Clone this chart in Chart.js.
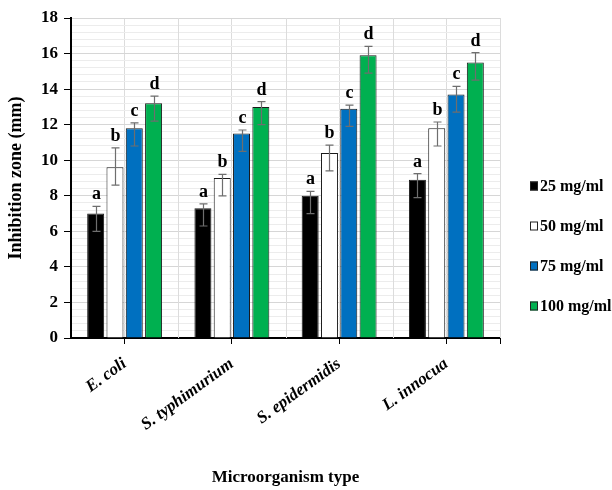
<!DOCTYPE html>
<html>
<head>
<meta charset="utf-8">
<script src="https://cdn.jsdelivr.net/npm/chart.js@4.4.1/dist/chart.umd.min.js"></script>
<style>
  html, body { margin: 0; padding: 0; background: #fff; }
  canvas { display: block; }
</style>
</head>
<body>
<canvas id="chart" width="612" height="490"></canvas>
<script>
// organisms on the x axis
const categories = ['E. coli', 'S. typhimurium', 'S. epidermidis', 'L. innocua'];
const seriesLabels = ['25 mg/ml', '50 mg/ml', '75 mg/ml', '100 mg/ml'];
const seriesColors = ['#000000', '#ffffff', '#0070c0', '#00b050'];
const seriesLetters = ['a', 'b', 'c', 'd'];

// inhibition zone (mm), per concentration
const zone25 = [7.0, 7.3, 8.0, 8.9];
const zone50 = [9.6, 9.0, 10.4, 11.8];
const zone75 = [11.8, 11.5, 12.9, 13.7];
const zone100 = [13.2, 13.0, 15.9, 15.5];

// error bars (plus / minus)
const errUp25 = [0.4, 0.25, 0.25, 0.35];
const errUp50 = [1.1, 0.2, 0.45, 0.35];
const errUp75 = [0.3, 0.2, 0.2, 0.45];
const errUp100 = [0.4, 0.3, 0.5, 0.55];
const errDown25 = [1.0, 1.0, 1.0, 1.0];
const errDown50 = [1.0, 1.0, 1.0, 1.0];
const errDown75 = [1.0, 1.0, 1.0, 1.0];
const errDown100 = [1.0, 1.0, 1.0, 1.0];

const yTicks = [0, 2, 4, 6, 8, 10, 12, 14, 16, 18];

const serif = "'Liberation Serif', 'Times New Roman', serif";
const values = [zone25, zone50, zone75, zone100];
const errUp = [errUp25, errUp50, errUp75, errUp100];
const errDown = [errDown25, errDown50, errDown75, errDown100];

function isMajor(v) {
  return yTicks.some(t => Math.abs(t - v) < 1e-6);
}

const errorBars = {
  id: 'errorBars',
  beforeDatasetsDraw(chart) {
    // vertical grid lines at the category boundaries
    const { ctx, chartArea, scales: { x } } = chart;
    ctx.save();
    ctx.strokeStyle = '#dcdcdc';
    ctx.lineWidth = 1;
    for (let i = 0; i < categories.length - 1; i++) {
      const px = Math.round((x.getPixelForValue(i) + x.getPixelForValue(i + 1)) / 2) + 0.5;
      ctx.beginPath();
      ctx.moveTo(px, chartArea.top);
      ctx.lineTo(px, chartArea.bottom);
      ctx.stroke();
    }
    const rx = Math.round(chartArea.right) + 0.5;
    ctx.beginPath();
    ctx.moveTo(rx, chartArea.top);
    ctx.lineTo(rx, chartArea.bottom);
    ctx.stroke();
    ctx.strokeStyle = '#000';
    ctx.beginPath();
    ctx.moveTo(rx, chartArea.bottom);
    ctx.lineTo(rx, chartArea.bottom + 6);
    ctx.stroke();
    ctx.restore();
  },
  afterDatasetsDraw(chart) {
    const { ctx, scales: { y } } = chart;
    ctx.save();
    chart.data.datasets.forEach((ds, di) => {
      const meta = chart.getDatasetMeta(di);
      meta.data.forEach((bar, i) => {
        const v = values[di][i];
        const top = y.getPixelForValue(v + errUp[di][i]);
        const bot = y.getPixelForValue(v - errDown[di][i]);
        const bx = Math.round(bar.x) + 0.5;
        ctx.strokeStyle = '#6e6e6e';
        ctx.lineWidth = 1.2;
        ctx.beginPath();
        ctx.moveTo(bx, top); ctx.lineTo(bx, bot);
        ctx.moveTo(bx - 4, top); ctx.lineTo(bx + 4, top);
        ctx.moveTo(bx - 4, bot); ctx.lineTo(bx + 4, bot);
        ctx.stroke();
        ctx.fillStyle = '#000';
        ctx.font = 'bold 18px ' + serif;
        ctx.textAlign = 'center';
        ctx.textBaseline = 'alphabetic';
        ctx.fillText(seriesLetters[di], bx, top - 7);
      });
    });
    ctx.restore();
  },
  afterDraw(chart) {
    // legend on the right
    const { ctx } = chart;
    ctx.save();
    ctx.font = 'bold 16px ' + serif;
    ctx.textAlign = 'left';
    ctx.textBaseline = 'middle';
    seriesLabels.forEach((lab, i) => {
      const cy = 186 + i * 40;
      ctx.fillStyle = seriesColors[i];
      ctx.fillRect(530, cy - 4.5, 8, 9);
      ctx.strokeStyle = '#222';
      ctx.lineWidth = 1;
      ctx.strokeRect(530.5, cy - 4, 7, 8);
      ctx.fillStyle = '#000';
      ctx.fillText(lab, 540, cy + 1);
    });
    ctx.restore();
  }
};

new Chart(document.getElementById('chart'), {
  type: 'bar',
  data: {
    labels: categories,
    datasets: values.map((vals, i) => ({
      label: seriesLabels[i],
      data: vals,
      backgroundColor: seriesColors[i],
      borderColor: '#1a1a1a',
      borderWidth: 1,
      categoryPercentage: 0.72,
      barPercentage: 0.88
    }))
  },
  options: {
    responsive: false,
    animation: false,
    layout: { padding: { top: 18, right: 112, left: 0, bottom: 0 } },
    plugins: { legend: { display: false }, tooltip: { enabled: false } },
    scales: {
      x: {
        afterFit(scale) { scale.height = 152; },
        border: { color: '#000', width: 2 },
        grid: { offset: false, color: '#dcdcdc', tickColor: '#000', tickLength: 6 },
        ticks: {
          autoSkip: false, minRotation: 36, maxRotation: 36, padding: 10, color: '#000',
          font: { family: serif, size: 17, weight: 'bold', style: 'italic' }
        },
        title: {
          display: true, text: 'Microorganism type', color: '#000',
          font: { family: serif, size: 17, weight: 'bold' },
          padding: { top: 0, bottom: 2 }
        }
      },
      y: {
        min: 0, max: 18,
        afterFit(scale) { scale.width = 71; },
        border: { color: '#000', width: 2 },
        grid: {
          color: c => isMajor(c.tick.value) ? '#d6d6d6' : '#ececec',
          tickColor: c => isMajor(c.tick.value) ? '#000' : 'rgba(0,0,0,0)',
          tickLength: 7
        },
        ticks: {
          stepSize: 0.4, autoSkip: false, padding: 6, color: '#000',
          font: { family: serif, size: 17, weight: 'bold' },
          callback: v => isMajor(v) ? Math.round(v) : ''
        },
        title: {
          display: true, text: 'Inhibition zone (mm)', color: '#000',
          font: { family: serif, size: 18, weight: 'bold' },
          padding: { top: 6, bottom: 0 }
        }
      }
    }
  },
  plugins: [errorBars]
});
</script>
</body>
</html>
